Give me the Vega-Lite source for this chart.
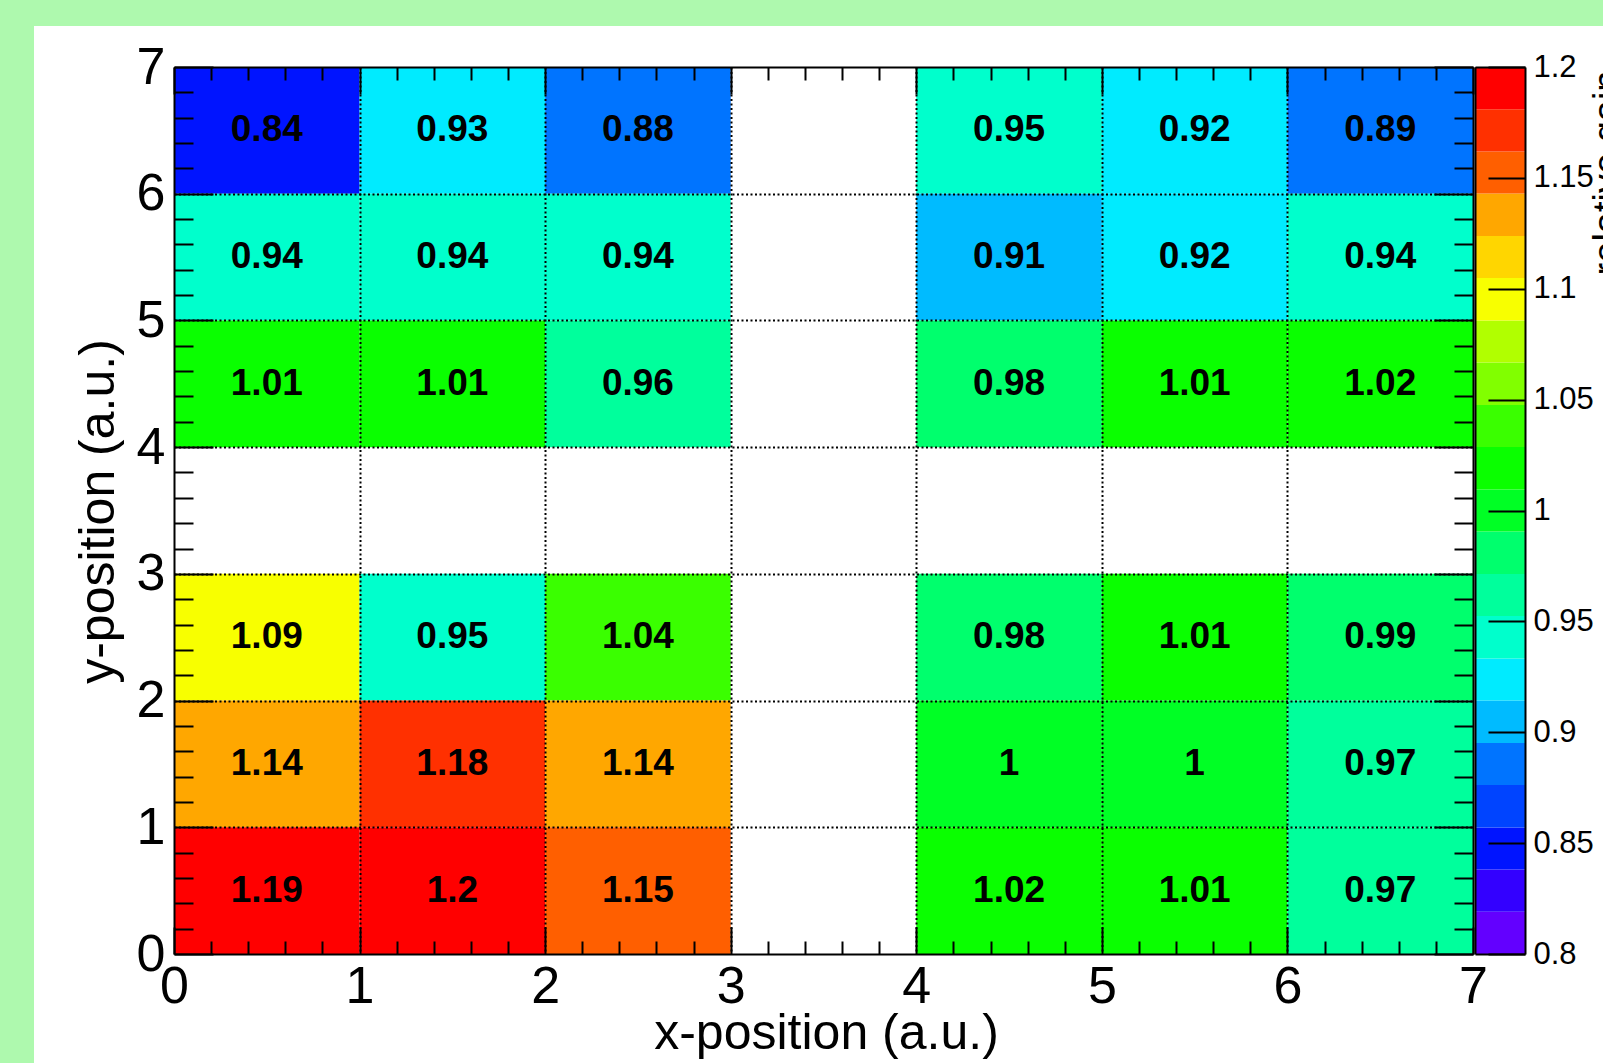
{
  "$schema": "https://vega.github.io/schema/vega-lite/v6.json",
  "width": 1569,
  "height": 1037,
  "autosize": {"type": "none"},
  "padding": {"left": 34, "top": 26, "right": 0, "bottom": 0},
  "background": "#aef9ae",
  "view": {"fill": "white", "stroke": null},
  "config": {
    "axis": {
      "domainColor": "black", "tickColor": "black", "labelColor": "black", "titleColor": "black",
      "labelFont": "Liberation Sans", "titleFont": "Liberation Sans",
      "titleFontWeight": "normal", "labelFontWeight": "normal",
      "tickWidth": 2, "domainWidth": 2, "labelFlush": false, "labelOverlap": false, "labelBound": false,
      "grid": false
    }
  },
  "datasets": {
    "cells": [
      {"xlo": 0, "xhi": 1, "ylo": 6, "yhi": 7, "xc": 0.5, "yc": 6.5, "value": 0.84},
      {"xlo": 1, "xhi": 2, "ylo": 6, "yhi": 7, "xc": 1.5, "yc": 6.5, "value": 0.93},
      {"xlo": 2, "xhi": 3, "ylo": 6, "yhi": 7, "xc": 2.5, "yc": 6.5, "value": 0.88},
      {"xlo": 4, "xhi": 5, "ylo": 6, "yhi": 7, "xc": 4.5, "yc": 6.5, "value": 0.95},
      {"xlo": 5, "xhi": 6, "ylo": 6, "yhi": 7, "xc": 5.5, "yc": 6.5, "value": 0.92},
      {"xlo": 6, "xhi": 7, "ylo": 6, "yhi": 7, "xc": 6.5, "yc": 6.5, "value": 0.89},
      {"xlo": 0, "xhi": 1, "ylo": 5, "yhi": 6, "xc": 0.5, "yc": 5.5, "value": 0.94},
      {"xlo": 1, "xhi": 2, "ylo": 5, "yhi": 6, "xc": 1.5, "yc": 5.5, "value": 0.94},
      {"xlo": 2, "xhi": 3, "ylo": 5, "yhi": 6, "xc": 2.5, "yc": 5.5, "value": 0.94},
      {"xlo": 4, "xhi": 5, "ylo": 5, "yhi": 6, "xc": 4.5, "yc": 5.5, "value": 0.91},
      {"xlo": 5, "xhi": 6, "ylo": 5, "yhi": 6, "xc": 5.5, "yc": 5.5, "value": 0.92},
      {"xlo": 6, "xhi": 7, "ylo": 5, "yhi": 6, "xc": 6.5, "yc": 5.5, "value": 0.94},
      {"xlo": 0, "xhi": 1, "ylo": 4, "yhi": 5, "xc": 0.5, "yc": 4.5, "value": 1.01},
      {"xlo": 1, "xhi": 2, "ylo": 4, "yhi": 5, "xc": 1.5, "yc": 4.5, "value": 1.01},
      {"xlo": 2, "xhi": 3, "ylo": 4, "yhi": 5, "xc": 2.5, "yc": 4.5, "value": 0.96},
      {"xlo": 4, "xhi": 5, "ylo": 4, "yhi": 5, "xc": 4.5, "yc": 4.5, "value": 0.98},
      {"xlo": 5, "xhi": 6, "ylo": 4, "yhi": 5, "xc": 5.5, "yc": 4.5, "value": 1.01},
      {"xlo": 6, "xhi": 7, "ylo": 4, "yhi": 5, "xc": 6.5, "yc": 4.5, "value": 1.02},
      {"xlo": 0, "xhi": 1, "ylo": 2, "yhi": 3, "xc": 0.5, "yc": 2.5, "value": 1.09},
      {"xlo": 1, "xhi": 2, "ylo": 2, "yhi": 3, "xc": 1.5, "yc": 2.5, "value": 0.95},
      {"xlo": 2, "xhi": 3, "ylo": 2, "yhi": 3, "xc": 2.5, "yc": 2.5, "value": 1.04},
      {"xlo": 4, "xhi": 5, "ylo": 2, "yhi": 3, "xc": 4.5, "yc": 2.5, "value": 0.98},
      {"xlo": 5, "xhi": 6, "ylo": 2, "yhi": 3, "xc": 5.5, "yc": 2.5, "value": 1.01},
      {"xlo": 6, "xhi": 7, "ylo": 2, "yhi": 3, "xc": 6.5, "yc": 2.5, "value": 0.99},
      {"xlo": 0, "xhi": 1, "ylo": 1, "yhi": 2, "xc": 0.5, "yc": 1.5, "value": 1.14},
      {"xlo": 1, "xhi": 2, "ylo": 1, "yhi": 2, "xc": 1.5, "yc": 1.5, "value": 1.18},
      {"xlo": 2, "xhi": 3, "ylo": 1, "yhi": 2, "xc": 2.5, "yc": 1.5, "value": 1.14},
      {"xlo": 4, "xhi": 5, "ylo": 1, "yhi": 2, "xc": 4.5, "yc": 1.5, "value": 1.0},
      {"xlo": 5, "xhi": 6, "ylo": 1, "yhi": 2, "xc": 5.5, "yc": 1.5, "value": 1.0},
      {"xlo": 6, "xhi": 7, "ylo": 1, "yhi": 2, "xc": 6.5, "yc": 1.5, "value": 0.97},
      {"xlo": 0, "xhi": 1, "ylo": 0, "yhi": 1, "xc": 0.5, "yc": 0.5, "value": 1.19},
      {"xlo": 1, "xhi": 2, "ylo": 0, "yhi": 1, "xc": 1.5, "yc": 0.5, "value": 1.2},
      {"xlo": 2, "xhi": 3, "ylo": 0, "yhi": 1, "xc": 2.5, "yc": 0.5, "value": 1.15},
      {"xlo": 4, "xhi": 5, "ylo": 0, "yhi": 1, "xc": 4.5, "yc": 0.5, "value": 1.02},
      {"xlo": 5, "xhi": 6, "ylo": 0, "yhi": 1, "xc": 5.5, "yc": 0.5, "value": 1.01},
      {"xlo": 6, "xhi": 7, "ylo": 0, "yhi": 1, "xc": 6.5, "yc": 0.5, "value": 0.97}
    ],
    "bands": [
      {"lo": 0.8, "hi": 0.819},
      {"lo": 0.819, "hi": 0.8381},
      {"lo": 0.8381, "hi": 0.8571},
      {"lo": 0.8571, "hi": 0.8762},
      {"lo": 0.8762, "hi": 0.8952},
      {"lo": 0.8952, "hi": 0.9143},
      {"lo": 0.9143, "hi": 0.9333},
      {"lo": 0.9333, "hi": 0.9524},
      {"lo": 0.9524, "hi": 0.9714},
      {"lo": 0.9714, "hi": 0.9905},
      {"lo": 0.9905, "hi": 1.0095},
      {"lo": 1.0095, "hi": 1.0286},
      {"lo": 1.0286, "hi": 1.0476},
      {"lo": 1.0476, "hi": 1.0667},
      {"lo": 1.0667, "hi": 1.0857},
      {"lo": 1.0857, "hi": 1.1048},
      {"lo": 1.1048, "hi": 1.1238},
      {"lo": 1.1238, "hi": 1.1429},
      {"lo": 1.1429, "hi": 1.1619},
      {"lo": 1.1619, "hi": 1.181},
      {"lo": 1.181, "hi": 1.2}
    ]
  },
  "layer": [
    {
      "data": {"name": "cells"},
      "layer": [
        {
          "mark": {"type": "rect"},
          "encoding": {
            "x": {"field": "xlo", "type": "quantitative",
              "scale": {"domain": [0, 7], "range": [140, 1439], "nice": false, "zero": false},
              "axis": {"orient": "bottom", "offset": -109, "values": [0, 1, 2, 3, 4, 5, 6, 7], "tickSize": -27, "zindex": 2,
                "labelFontSize": 52, "labelBaseline": "alphabetic", "labelPadding": 75,
                "title": "x-position (a.u.)", "titleFontSize": 50, "titleX": 792, "titleY": 94,
                "titleAlign": "center", "titleBaseline": "alphabetic", "titleAngle": 0}},
            "x2": {"field": "xhi"},
            "y": {"field": "ylo", "type": "quantitative",
              "scale": {"domain": [0, 7], "range": [928, 41], "nice": false, "zero": false},
              "axis": {"orient": "left", "offset": -140, "values": [0, 1, 2, 3, 4, 5, 6, 7], "tickSize": -39, "zindex": 2,
                "labelFontSize": 52, "labelBaseline": "middle", "labelPadding": 48,
                "title": "y-position (a.u.)", "titleFontSize": 50, "titleX": -61, "titleY": 485,
                "titleAlign": "center", "titleBaseline": "alphabetic", "titleAngle": 270}},
            "y2": {"field": "yhi"},
            "color": {"field": "value", "type": "quantitative", "legend": null,
              "scale": {"type": "threshold",
                "domain": [0.819, 0.8381, 0.8571, 0.8762, 0.8952, 0.9143, 0.9333, 0.9524, 0.9714, 0.9905, 1.0095, 1.0286, 1.0476, 1.0667, 1.0857, 1.1048, 1.1238, 1.1429, 1.1619, 1.181],
                "range": ["#6300ff", "#3300ff", "#0014ff", "#0044ff", "#0074ff", "#00bbff", "#00ebff", "#00ffcc", "#00ff9c", "#00ff6d", "#00ff25", "#0aff00", "#3aff00", "#81ff00", "#b1ff00", "#f8ff00", "#ffd600", "#ffa700", "#ff5f00", "#ff3000", "#ff0000"]}}
          }
        },
        {
          "mark": {"type": "text", "font": "Liberation Sans", "fontWeight": "bold", "fontSize": 37, "color": "black", "baseline": "middle", "align": "center"},
          "encoding": {
            "x": {"field": "xc", "type": "quantitative",
              "axis": {"orient": "bottom", "offset": -109, "zindex": 2, "values": [0.2,0.4,0.6,0.8,1.2,1.4,1.6,1.8,2.2,2.4,2.6,2.8,3.2,3.4,3.6,3.8,4.2,4.4,4.6,4.8,5.2,5.4,5.6,5.8,6.2,6.4,6.6,6.8],
                "tickSize": -13, "labels": false, "domain": false, "title": null}},
            "y": {"field": "yc", "type": "quantitative",
              "axis": {"orient": "left", "offset": -140, "zindex": 2, "values": [0.2,0.4,0.6,0.8,1.2,1.4,1.6,1.8,2.2,2.4,2.6,2.8,3.2,3.4,3.6,3.8,4.2,4.4,4.6,4.8,5.2,5.4,5.6,5.8,6.2,6.4,6.6,6.8],
                "tickSize": -19, "labels": false, "domain": false, "title": null}},
            "text": {"field": "value", "type": "quantitative", "format": ".2~f"}
          }
        },
        {
          "mark": {"type": "point", "opacity": 0},
          "encoding": {
            "x": {"field": "xc", "type": "quantitative",
              "axis": {"orient": "top", "offset": -41, "zindex": 2, "values": [0, 1, 2, 3, 4, 5, 6, 7], "tickSize": -27, "labels": false, "title": null}},
            "y": {"field": "yc", "type": "quantitative",
              "axis": {"orient": "right", "offset": -130, "zindex": 2, "values": [0, 1, 2, 3, 4, 5, 6, 7], "tickSize": -39, "labels": false, "title": null}}
          }
        },
        {
          "mark": {"type": "point", "opacity": 0},
          "encoding": {
            "x": {"field": "xc", "type": "quantitative",
              "axis": {"orient": "top", "offset": -41, "zindex": 2, "values": [0.2,0.4,0.6,0.8,1.2,1.4,1.6,1.8,2.2,2.4,2.6,2.8,3.2,3.4,3.6,3.8,4.2,4.4,4.6,4.8,5.2,5.4,5.6,5.8,6.2,6.4,6.6,6.8],
                "tickSize": -13, "labels": false, "domain": false, "title": null}},
            "y": {"field": "yc", "type": "quantitative",
              "axis": {"orient": "right", "offset": -130, "zindex": 2, "values": [0.2,0.4,0.6,0.8,1.2,1.4,1.6,1.8,2.2,2.4,2.6,2.8,3.2,3.4,3.6,3.8,4.2,4.4,4.6,4.8,5.2,5.4,5.6,5.8,6.2,6.4,6.6,6.8],
                "tickSize": -19, "labels": false, "domain": false, "title": null}}
          }
        },
        {
          "mark": {"type": "point", "opacity": 0},
          "encoding": {
            "x": {"field": "xc", "type": "quantitative",
              "axis": {"orient": "top", "offset": -41, "zindex": 1, "values": [1, 2, 3, 4, 5, 6], "tickSize": -887,
                "tickDash": [2, 2.5], "tickWidth": 2, "labels": false, "domain": false, "title": null}},
            "y": {"field": "yc", "type": "quantitative",
              "axis": {"orient": "left", "offset": -140, "zindex": 1, "values": [1, 2, 3, 4, 5, 6], "tickSize": -1299,
                "tickDash": [2, 2.5], "tickWidth": 2, "labels": false, "domain": false, "title": null}}
          }
        }
      ],
      "resolve": {"axis": {"x": "independent", "y": "independent"}}
    },
    {
      "data": {"name": "bands"},
      "layer": [
        {
          "mark": {"type": "rect"},
          "encoding": {
            "x": {"datum": 0, "type": "quantitative",
              "scale": {"domain": [0, 1], "range": [1441, 1491], "nice": false, "zero": false},
              "axis": {"orient": "bottom", "offset": -109, "zindex": 2, "ticks": false, "labels": false, "title": null}},
            "x2": {"datum": 1},
            "y": {"field": "lo", "type": "quantitative",
              "scale": {"domain": [0.8, 1.2], "range": [928, 41], "nice": false, "zero": false},
              "axis": {"orient": "right", "offset": -78, "zindex": 2, "values": [0.8, 0.85, 0.9, 0.95, 1, 1.05, 1.1, 1.15, 1.2],
                "tickSize": -37, "labelFontSize": 31, "labelPadding": 45, "labelBaseline": "middle", "format": "~g",
                "title": "relative gain", "titleFontSize": 38, "titleAngle": 270, "titleAlign": "right",
                "titleBaseline": "alphabetic", "titleX": 94, "titleY": 44}},
            "y2": {"field": "hi"},
            "color": {"field": "lo", "type": "quantitative", "legend": null,
              "scale": {"type": "threshold",
                "domain": [0.819, 0.8381, 0.8571, 0.8762, 0.8952, 0.9143, 0.9333, 0.9524, 0.9714, 0.9905, 1.0095, 1.0286, 1.0476, 1.0667, 1.0857, 1.1048, 1.1238, 1.1429, 1.1619, 1.181],
                "range": ["#6300ff", "#3300ff", "#0014ff", "#0044ff", "#0074ff", "#00bbff", "#00ebff", "#00ffcc", "#00ff9c", "#00ff6d", "#00ff25", "#0aff00", "#3aff00", "#81ff00", "#b1ff00", "#f8ff00", "#ffd600", "#ffa700", "#ff5f00", "#ff3000", "#ff0000"]}}
          }
        },
        {
          "mark": {"type": "point", "opacity": 0},
          "encoding": {
            "x": {"datum": 0.5, "type": "quantitative",
              "axis": {"orient": "top", "offset": -41, "zindex": 2, "ticks": false, "labels": false, "title": null}},
            "y": {"field": "lo", "type": "quantitative",
              "axis": {"orient": "left", "offset": -1441, "zindex": 2, "ticks": false, "labels": false, "title": null}}
          }
        }
      ],
      "resolve": {"axis": {"x": "independent", "y": "independent"}}
    }
  ],
  "resolve": {"scale": {"x": "independent", "y": "independent"}}
}
